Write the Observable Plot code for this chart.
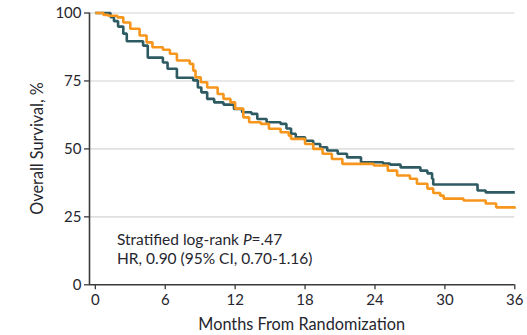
<!DOCTYPE html>
<html>
<head>
<meta charset="utf-8">
<script src="https://cdn.jsdelivr.net/npm/d3@7"></script>
<script src="https://cdn.jsdelivr.net/npm/@observablehq/plot@0.6"></script>
<style>
  html, body { margin: 0; padding: 0; background: #fff; }
  #chart { width: 527px; height: 335px; }
</style>
</head>
<body>
<div id="chart"></div>
<script>
// ---- data ----
const darkMonths = [0, 1.3, 1.6, 1.95, 2.4, 2.7, 4.1, 4.5, 5.8, 6.2, 7.0, 8.4, 8.8, 9.1, 9.6, 10.2, 11.0, 11.9, 12.6, 13.4, 13.9, 14.7, 15.9, 16.4, 16.8, 17.2, 18.0, 18.7, 19.3, 19.9, 20.8, 21.6, 22.8, 24.7, 25.3, 26.2, 27.9, 28.5, 28.9, 29.0, 32.8, 33.5, 36];
const darkSurv   = [100, 98.5, 97, 95, 92.4, 89.6, 88, 83.6, 81.8, 79.5, 76.2, 75.2, 72.6, 70.8, 68.4, 67.1, 66.3, 64.7, 63.5, 62.9, 61, 59.8, 59.2, 57.5, 55.6, 54.3, 53, 51.8, 50.6, 49.4, 48.2, 46.9, 45.1, 44.6, 44.2, 43.2, 42, 41, 39, 36.9, 34.7, 34, 34];

const orangeMonths = [0, 0.7, 1.1, 1.9, 2.4, 3.0, 3.8, 4.4, 4.9, 5.8, 6.4, 7.0, 8.1, 8.4, 8.6, 9.05, 9.6, 10.5, 11.0, 11.6, 12.0, 12.7, 13.2, 14.2, 14.9, 15.9, 16.6, 16.8, 18.0, 18.7, 19.5, 20.3, 21.2, 23.9, 25.1, 25.9, 27.0, 27.6, 28.5, 29.0, 29.6, 29.9, 31.6, 33.5, 34.4, 36];
const orangeSurv   = [100, 99.3, 99, 98.4, 96.5, 94.2, 91.7, 89.2, 87.4, 86.5, 85, 82.5, 81.3, 78.8, 76.3, 74.5, 72.6, 70.2, 68.4, 67.1, 64.8, 61.6, 59.8, 59.2, 57.4, 56.1, 54.9, 53.7, 51.8, 50, 48.2, 46.3, 44.5, 43.9, 42, 40.2, 39, 37.2, 35.4, 33.8, 32.8, 31.7, 31, 29.9, 28.5, 28];

const groups = ["Arm A", "Arm B"];
const groupColors = ["#f7961d", "#2e5a62"];
const xTicks = [0, 6, 12, 18, 24, 30, 36];
const yTicks = [0, 25, 50, 75, 100];
const xLabel = "Months From Randomization";
const yLabel = "Overall Survival, %";
const statLine1 = ["Stratified log-rank ", "P", "=.47"];
const statLine2 = "HR, 0.90 (95% CI, 0.70-1.16)";

// ---- build table ----
const rows = [
  ...darkMonths.map((m, i) => ({group: groups[1], month: m, surv: darkSurv[i]})),
  ...orangeMonths.map((m, i) => ({group: groups[0], month: m, surv: orangeSurv[i]}))
];

const FONT = "Lato, 'Open Sans', sans-serif";
const INK = "#26262e";

const plot = Plot.plot({
  width: 527,
  height: 335,
  marginLeft: 89,
  marginRight: 12.7,
  marginTop: 12.5,
  marginBottom: 50.7,
  style: {fontFamily: FONT, fontSize: "15px", color: INK, background: "#fff"},
  x: {domain: [-0.5, 36]},
  y: {domain: [0, 100]},
  color: {domain: groups, range: groupColors},
  marks: [
    Plot.ruleY(yTicks.filter(d => d > 0), {stroke: "#e0e0e0", strokeWidth: 1.6}),
    Plot.axisX({ticks: xTicks, tickSize: 5, tickPadding: 5, label: null, stroke: "#3a3a3a", strokeWidth: 1.3, fill: INK, fontSize: 15}),
    Plot.axisY({ticks: yTicks, tickSize: 5, tickPadding: 3, label: null, stroke: "#3a3a3a", strokeWidth: 1.3, fill: INK, fontSize: 15}),
    Plot.line(rows, {x: "month", y: "surv", z: "group", stroke: "group", curve: "step-after", strokeWidth: 2.6, strokeLinejoin: "miter", strokeLinecap: "butt"}),
    Plot.ruleX([-0.5], {stroke: "#3a3a3a", strokeWidth: 1.6}),
    Plot.ruleY([0], {stroke: "#3a3a3a", strokeWidth: 1.6})
  ]
});

document.getElementById("chart").appendChild(plot);

const svg = d3.select(plot);
const sx = plot.scale("x"), sy = plot.scale("y");
const frameL = sx.apply(-0.5), frameR = sx.apply(36);
const frameT = sy.apply(100), frameB = sy.apply(0);

// axis titles
svg.append("text")
  .attr("x", (frameL + frameR) / 2).attr("y", 330)
  .attr("text-anchor", "middle")
  .attr("font-family", FONT).attr("font-size", 16.3).attr("fill", INK)
  .text(xLabel);
svg.append("text")
  .attr("transform", `translate(43,${(frameT + frameB) / 2}) rotate(-90)`)
  .attr("text-anchor", "middle")
  .attr("font-family", FONT).attr("font-size", 16.3).attr("fill", INK)
  .text(yLabel);

// annotation with italic P
const ax = sx.apply(1.9);
const t1 = svg.append("text")
  .attr("x", ax).attr("y", sy.apply(14.4))
  .attr("text-anchor", "start")
  .attr("font-family", FONT).attr("font-size", 15.5).attr("fill", INK);
statLine1.forEach((s, i) => {
  const ts = t1.append("tspan").text(s);
  if (i === 1) ts.attr("font-style", "italic");
});
svg.append("text")
  .attr("x", ax).attr("y", sy.apply(7.4))
  .attr("text-anchor", "start")
  .attr("font-family", FONT).attr("font-size", 15.5).attr("fill", INK)
  .text(statLine2);
</script>
</body>
</html>
